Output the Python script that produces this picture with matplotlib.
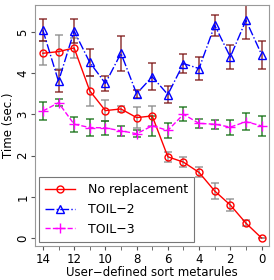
"""Time vs user-defined sort metarules, three replacement strategies."""
import matplotlib
matplotlib.use("Agg")
import matplotlib.pyplot as plt
from matplotlib.ticker import MultipleLocator

metarules = [14, 13, 12, 11, 10, 9, 8, 7, 6, 5, 4, 3, 2, 1, 0]

no_repl = [4.48, 4.52, 4.61, 3.57, 3.09, 3.13, 2.92, 2.96, 1.97, 1.84, 1.59, 1.14, 0.80, 0.36, 0.0]
no_repl_err = [0.29, 0.41, 0.25, 0.36, 0.25, 0.08, 0.25, 0.25, 0.12, 0.13, 0.12, 0.20, 0.14, 0.07, 0.0]

toil2 = [5.04, 3.80, 5.02, 4.26, 3.75, 4.48, 3.50, 3.91, 3.48, 4.23, 4.11, 5.16, 4.39, 5.28, 4.45]
toil2_err = [0.27, 0.27, 0.30, 0.33, 0.19, 0.43, 0.10, 0.33, 0.21, 0.24, 0.27, 0.25, 0.29, 0.45, 0.34]

toil3 = [3.08, 3.28, 2.76, 2.68, 2.67, 2.60, 2.53, 2.72, 2.61, 3.00, 2.78, 2.76, 2.69, 2.82, 2.72]
toil3_err = [0.23, 0.09, 0.18, 0.21, 0.16, 0.12, 0.09, 0.25, 0.18, 0.17, 0.11, 0.11, 0.18, 0.21, 0.24]

plt.rcParams["font.family"] = "DejaVu Sans"
plt.rcParams["font.size"] = 8.5

fig = plt.figure(figsize=(2.74, 2.8), dpi=100)
ax = fig.add_axes([0.128, 0.122, 0.854, 0.86])

ax.errorbar(metarules, no_repl, yerr=no_repl_err, fmt="none", ecolor="#8c8c8c",
            elinewidth=1.2, capsize=3, capthick=1.2, alpha=0.8, zorder=2)
ax.errorbar(metarules, toil2, yerr=toil2_err, fmt="none", ecolor="#7a1010",
            elinewidth=1.2, capsize=3, capthick=1.2, alpha=0.75, zorder=2)
ax.errorbar(metarules, toil3, yerr=toil3_err, fmt="none", ecolor="#0a6a0a",
            elinewidth=1.2, capsize=3, capthick=1.2, alpha=0.75, zorder=2)

ax.plot(metarules, no_repl, color="red", lw=1, ls="-", marker="o", ms=5,
        mfc="none", mec="red", label="No replacement", zorder=3)
ax.plot(metarules, toil2, color="blue", lw=1, ls="-.", marker="^", ms=6,
        mfc="none", mec="blue", label="TOIL\u22122", zorder=3)
ax.plot(metarules, toil3, color="magenta", lw=1, ls="--", marker="+", ms=7,
        mec="magenta", label="TOIL\u22123", zorder=3)

ax.set_xlim(14.5, -0.48)
ax.set_ylim(-0.19, 5.65)
ax.xaxis.set_major_locator(MultipleLocator(2))
ax.xaxis.set_minor_locator(MultipleLocator(1))
ax.yaxis.set_major_locator(MultipleLocator(1))
ax.tick_params(axis="both", which="both", direction="out", length=3, color="#555555")
ax.tick_params(axis="x", which="both", pad=2.5)
ax.tick_params(axis="y", which="both", pad=1)
ax.tick_params(axis="x", which="minor", labelbottom=False)
for lbl in ax.get_yticklabels():
    lbl.set_rotation(90)
    lbl.set_va("center")
for s in ax.spines.values():
    s.set_color("#999999")

ax.set_xlabel("User\u2212defined sort metarules", labelpad=0)
ax.set_ylabel("Time (sec.)", labelpad=1)

leg = ax.legend(loc="lower left", fontsize=9, frameon=True, fancybox=False,
                borderaxespad=0.3, borderpad=0.5, handlelength=2.4,
                labelspacing=0.55, handletextpad=1.0)
leg.get_frame().set_edgecolor("#555555")
leg.get_frame().set_linewidth(0.8)

fig.savefig("out.png", dpi=100)
